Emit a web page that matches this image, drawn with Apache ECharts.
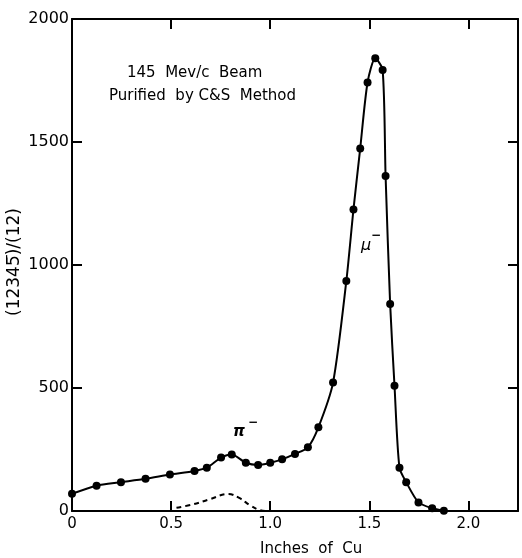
<!DOCTYPE html>
<html>
<head>
<meta charset="utf-8">
<script src="https://cdn.jsdelivr.net/npm/echarts@6/dist/echarts.min.js"></script>
<style>
html,body{margin:0;padding:0;background:#fff;}
#chart{width:522px;height:558px;}
</style>
</head>
<body>
<div id="chart"></div>
<script>
// Main curve: inches of Cu vs counting ratio
var xValues = [0.00, 0.124, 0.247, 0.371, 0.494, 0.618, 0.68, 0.752, 0.806, 0.877, 0.939, 1.00, 1.06, 1.125, 1.19, 1.243, 1.317, 1.384, 1.42, 1.454, 1.491, 1.53, 1.567, 1.582, 1.605, 1.627, 1.652, 1.686, 1.748, 1.817, 1.876];
var yValues = [70, 103, 117, 131, 148, 163, 176, 217, 230, 196, 187, 196, 210, 232, 259, 340, 522, 935, 1226, 1474, 1742, 1840, 1793, 1362, 841, 509, 176, 117, 35, 11, 1];
// Dashed pi- contribution
var dashX = [0.527, 0.611, 0.695, 0.788, 0.846, 0.897, 0.947, 0.99];
var dashY = [13, 27, 48, 69, 52, 24, 4, 0];
var xTicks = [0, 0.5, 1.0, 1.5, 2.0];
var yTicks = [0, 500, 1000, 1500, 2000];

var FONT = 'DejaVu Sans';
var chart = echarts.init(document.getElementById('chart'));
function pairs(xs, ys){ return xs.map(function(x,i){ return [x, ys[i]]; }); }
var axisLine = {show:true, onZero:false, lineStyle:{color:'#000', width:2}};
var tick = {show:true, inside:true, length:10, lineStyle:{color:'#000', width:2}};
chart.setOption({
  animation:false,
  backgroundColor:'#fff',
  grid:{left:72, right:4, top:19, bottom:47},
  xAxis:[{
    type:'value', min:0, max:2.25, interval:0.5, position:'bottom',
    axisLine:axisLine, axisTick:tick, splitLine:{show:false},
    axisLabel:{color:'#000', fontFamily:FONT, fontSize:15, margin:6, showMaxLabel:false,
      formatter:function(v){ if (xTicks.indexOf(v) < 0) return ''; return v===0 ? '0' : v.toFixed(1); }}
  },{
    type:'value', min:0, max:2.25, interval:0.5, position:'top',
    axisLine:axisLine, axisTick:tick, axisLabel:{show:false}, splitLine:{show:false}
  }],
  yAxis:[{
    type:'value', min:0, max:2000, interval:500, position:'left',
    axisLine:axisLine, axisTick:tick, splitLine:{show:false},
    axisLabel:{color:'#000', fontFamily:FONT, fontSize:16, margin:3,
      formatter:function(v){ return yTicks.indexOf(v) < 0 ? '' : String(v); }}
  },{
    type:'value', min:0, max:2000, interval:500, position:'right',
    axisLine:axisLine, axisTick:tick, axisLabel:{show:false}, splitLine:{show:false}
  }],
  series:[{
    type:'line', data:pairs(xValues, yValues), smooth:0.25,
    symbol:'circle', symbolSize:8,
    lineStyle:{color:'#000', width:2}, itemStyle:{color:'#000'}
  },{
    type:'line', data:pairs(dashX, dashY), smooth:0.4, symbol:'none',
    lineStyle:{color:'#000', width:2, type:[5,4]}
  }],
  graphic:[
    {type:'text', left:127, top:66, style:{text:'145  Mev/c  Beam', font:'15px '+FONT, fill:'#000'}},
    {type:'text', left:109, top:89, style:{text:'Purified  by C&S  Method', font:'15px '+FONT, fill:'#000'}},
    {type:'text', left:233, top:425, style:{text:'π', font:'italic bold 15px '+FONT, fill:'#000'}},
    {type:'text', left:248, top:417, style:{text:'−', font:'bold 12px '+FONT, fill:'#000'}},
    {type:'text', left:361, top:238, style:{text:'μ', font:'italic 16px '+FONT, fill:'#000'}},
    {type:'text', left:371, top:230, style:{text:'−', font:'bold 12px '+FONT, fill:'#000'}},
    {type:'text', left:260, top:542, style:{text:'Inches  of  Cu', font:'15px '+FONT, fill:'#000'}},
    {type:'text', x:15, y:262, rotation:Math.PI/2, style:{text:'(12345\u0305)/(12)', font:'17px '+FONT, fill:'#000', align:'center', verticalAlign:'middle'}}
  ]
});
</script>
</body>
</html>
